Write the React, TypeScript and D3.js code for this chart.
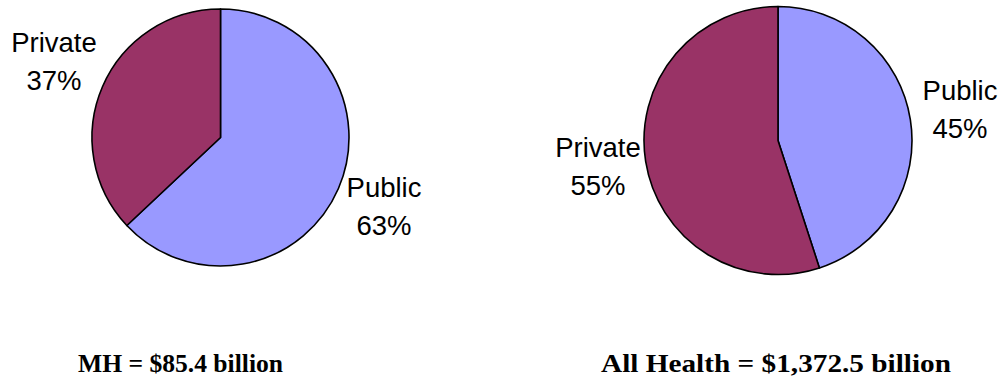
import React from "react";
import * as d3 from "d3";

// Spending shares by payer (percent)
const categories = ["Public", "Private"];
const mhShares = [63, 37];
const allHealthShares = [45, 55];
const titles = ["MH = $85.4 billion", "All Health = $1,372.5 billion"];

const colors: Record<string, string> = { Public: "#9999FF", Private: "#993366" };

type PieSpec = {
  values: number[];
  cx: number;
  cy: number;
  r: number;
  labels: { cat: string; x: number; y: number }[];
  title: string;
  titleX: number;
  titleWidth: number;
};

const W = 1004;
const H = 381;

const pies: PieSpec[] = [
  {
    values: mhShares,
    cx: 220.5,
    cy: 137.5,
    r: 128.5,
    labels: [
      { cat: "Public", x: 384, y: 197 },
      { cat: "Private", x: 54, y: 52 },
    ],
    title: titles[0],
    titleX: 78,
    titleWidth: 205,
  },
  {
    values: allHealthShares,
    cx: 778,
    cy: 140.5,
    r: 134,
    labels: [
      { cat: "Public", x: 960, y: 100 },
      { cat: "Private", x: 598, y: 157 },
    ],
    title: titles[1],
    titleX: 601,
    titleWidth: 350,
  },
];

const pieGen = d3
  .pie<number>()
  .sort(null)
  .startAngle(0)
  .endAngle(2 * Math.PI)
  .value((d) => d);

export default function App() {
  return (
    <svg
      width={W}
      height={H}
      style={{ position: "absolute", left: 0, top: 0, background: "#fff" }}
    >
      {pies.map((p, pi) => {
        const arc = d3.arc<d3.PieArcDatum<number>>().innerRadius(0).outerRadius(p.r);
        const arcs = pieGen(p.values);
        return (
          <g key={pi}>
            <g transform={`translate(${p.cx},${p.cy})`}>
              {arcs.map((a, i) => (
                <path
                  key={i}
                  d={arc(a) || ""}
                  fill={colors[categories[i]]}
                  stroke="#000"
                  strokeWidth={1.6}
                  strokeLinejoin="round"
                />
              ))}
            </g>
            {p.labels.map((l) => {
              const idx = categories.indexOf(l.cat);
              return (
                <text
                  key={l.cat}
                  x={l.x}
                  y={l.y}
                  textAnchor="middle"
                  fontFamily="'Liberation Sans', Arial, sans-serif"
                  fontSize={27.5}
                  fill="#000"
                >
                  <tspan x={l.x}>{l.cat}</tspan>
                  <tspan x={l.x} dy={38}>{`${p.values[idx]}%`}</tspan>
                </text>
              );
            })}
            <text
              x={p.titleX}
              y={372}
              fontFamily="'Liberation Serif', 'Times New Roman', serif"
              fontWeight="bold"
              fontSize={25.5}
              textLength={p.titleWidth}
              lengthAdjust="spacingAndGlyphs"
              fill="#000"
            >
              {p.title}
            </text>
          </g>
        );
      })}
    </svg>
  );
}
